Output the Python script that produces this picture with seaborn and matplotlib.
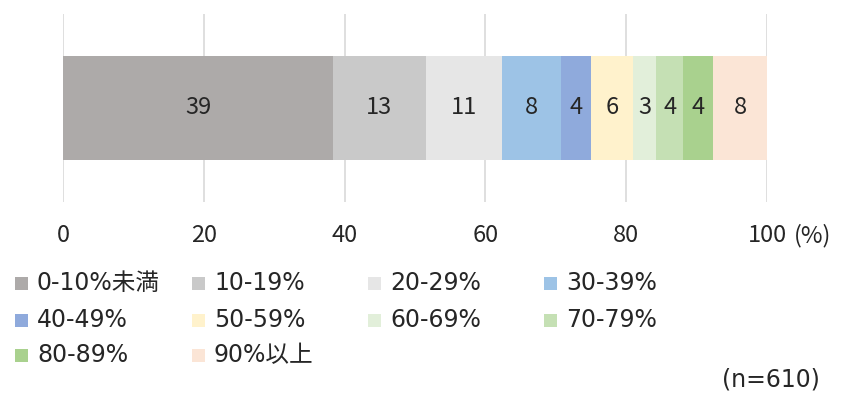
import numpy as np
import matplotlib.pyplot as plt
import matplotlib.patches as mpatches
import seaborn as sns

# data
categories = ["0-10%未満", "10-19%", "20-29%", "30-39%", "40-49%",
              "50-59%", "60-69%", "70-79%", "80-89%", "90%以上"]
shares = [38.4, 13.1, 10.9, 8.3, 4.3, 5.9, 3.4, 3.8, 4.3, 7.6]
share_labels = ["39", "13", "11", "8", "4", "6", "3", "4", "4", "8"]
colors = ["#ADAAA9", "#C9C9C9", "#E6E6E6", "#9DC3E6", "#8FAADC",
          "#FFF2CC", "#E2EFDA", "#C5E0B4", "#A9D18E", "#FBE5D6"]
x_ticks = [0, 20, 40, 60, 80, 100]
unit_label = "(%)"
sample_note = "(n=610)"

W, H = 845, 394
FS = 17
WIDE = ["DejaVu Sans", "Noto Sans CJK JP"]

sns.set_theme(style="white")
plt.rcParams["font.family"] = ["Noto Sans CJK JP", "DejaVu Sans"]

fig = plt.figure(figsize=(W / 100, H / 100), dpi=100)
ax = fig.add_axes([63 / W, 1 - 202 / H, (767 - 63) / W, (202 - 14) / H])

# stacked bar: draw cumulative totals from the longest down
cum = np.cumsum(shares)
for i in reversed(range(len(categories))):
    sns.barplot(x=[cum[i]], y=["all"], orient="h", color=colors[i],
                saturation=1, width=0.553, linewidth=0, ax=ax)

left = cum - np.array(shares)
for lft, val, lab in zip(left, shares, share_labels):
    ax.text(lft + val / 2, 0, lab, ha="center", va="center",
            fontsize=FS, color="#262626")

ax.set_xlim(0, 100)
ax.set_ylim(0.5, -0.5)
ax.set_xticks(x_ticks)
ax.set_xticklabels([str(t) for t in x_ticks], fontsize=FS, color="#262626")
ax.tick_params(axis="x", length=0, pad=16)
ax.set_yticks([])
ax.set_xlabel("")
ax.set_ylabel("")
ax.grid(axis="x", color="#D9D9D9", linewidth=1.2)
ax.set_axisbelow(True)
for s in ax.spines.values():
    s.set_visible(False)

ax.annotate(unit_label, xy=(1, 0), xycoords="axes fraction",
            xytext=(19, -16), textcoords="offset points",
            ha="left", va="top", fontsize=FS, color="#262626")

# legend, row-major in four columns
col_x = [37, 214, 390, 566]
row_y = [283, 320, 355]
for j, (cat, col) in enumerate(zip(categories, colors)):
    tx = col_x[j % 4]
    ty = row_y[j // 4]
    fig.patches.append(mpatches.Rectangle(
        ((tx - 22) / W, 1 - (ty + 6.5) / H), 13 / W, 13 / H,
        transform=fig.transFigure, facecolor=col, edgecolor="none"))
    fig.text(tx / W, 1 - ty / H, cat, ha="left", va="center",
             fontsize=FS, color="#262626", family=WIDE)

fig.text(820 / W, 1 - 380 / H, sample_note, ha="right", va="center",
         fontsize=FS, color="#262626", family=WIDE)

fig.savefig("out.png", dpi=100)
